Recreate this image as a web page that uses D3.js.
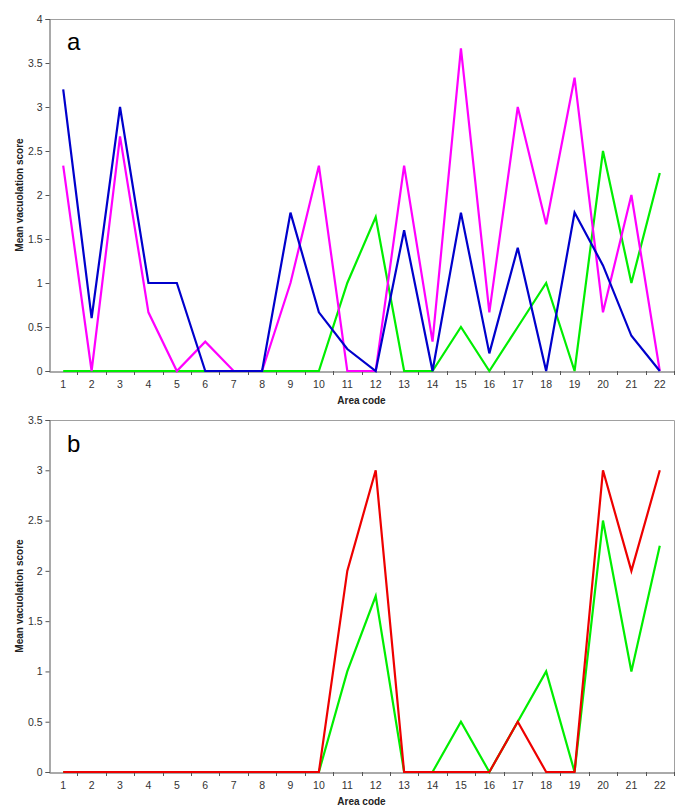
<!DOCTYPE html>
<html>
<head>
<meta charset="utf-8">
<script src="https://cdn.jsdelivr.net/npm/d3@7"></script>
<style>
  html, body { margin: 0; padding: 0; background: #fff; }
  svg { display: block; }
</style>
</head>
<body>
<svg id="chart" width="685" height="812"></svg>
<script>
// ---- data ----
const areaCodes = d3.range(1, 23).map(String);

// panel a
const seriesBlueA    = [3.2, 0.6, 3.0, 1.0, 1.0, 0, 0, 0, 1.8, 0.667, 0.25, 0, 1.6, 0, 1.8, 0.2, 1.4, 0, 1.8, 1.2, 0.4, 0];
const seriesMagentaA = [2.333, 0, 2.667, 0.667, 0, 0.333, 0, 0, 1.0, 2.333, 0, 0, 2.333, 0.333, 3.667, 0.667, 3.0, 1.667, 3.333, 0.667, 2.0, 0];
const seriesGreenA   = [0, 0, 0, 0, 0, 0, 0, 0, 0, 0, 1.0, 1.75, 0, 0, 0.5, 0, 0.5, 1.0, 0, 2.5, 1.0, 2.25];

// panel b
const seriesGreenB = [0, 0, 0, 0, 0, 0, 0, 0, 0, 0, 1.0, 1.75, 0, 0, 0.5, 0, 0.5, 1.0, 0, 2.5, 1.0, 2.25];
const seriesRedB   = [0, 0, 0, 0, 0, 0, 0, 0, 0, 0, 2.0, 3.0, 0, 0, 0, 0, 0.5, 0, 0, 3.0, 2.0, 3.0];

const yTicksA = [0, 0.5, 1, 1.5, 2, 2.5, 3, 3.5, 4];
const yTicksB = [0, 0.5, 1, 1.5, 2, 2.5, 3, 3.5];

const xTitle = "Area code";
const yTitle = "Mean vacuolation score";

// ---- drawing ----
const svg = d3.select("#chart");
const narrow = "'Liberation Sans Narrow', 'Arial Narrow', 'Liberation Sans', Arial, sans-serif";

function panel(opts) {
  const left = 49, right = 674;
  const top = opts.top, bottom = opts.top + 352;
  const x = d3.scaleBand().domain(areaCodes).range([left, right]).paddingInner(0).paddingOuter(0);
  const y = d3.scaleLinear().domain([0, opts.yMax]).range([bottom, top]);
  const g = svg.append("g");

  // plot frame (top and right, light gray)
  g.append("path")
    .attr("d", `M${left},${top + 0.5}H${right + 0.5}V${bottom}`)
    .attr("fill", "none").attr("stroke", "#a0a0a0").attr("stroke-width", 1);

  // y axis
  const ya = d3.axisLeft(y).tickValues(opts.yTicks).tickSize(4).tickPadding(3)
    .tickFormat(d => String(d));
  const yg = g.append("g").attr("transform", `translate(${left + 0.5},0)`).call(ya);
  yg.select(".domain").attr("stroke", "#555");
  yg.selectAll(".tick line").attr("stroke", "#555");
  yg.selectAll(".tick text").attr("font-family", narrow).attr("font-size", 10.5).attr("fill", "#333");

  // x axis: labels centered on bands, tick marks at band boundaries
  const xa = d3.axisBottom(x).tickSize(0).tickPadding(9);
  const xg = g.append("g").attr("transform", `translate(0,${bottom + 0.5})`).call(xa);
  xg.select(".domain").attr("stroke", "#555");
  xg.selectAll(".tick text").attr("font-family", narrow).attr("font-size", 10.5).attr("fill", "#333");
  g.append("g").selectAll("line").data(areaCodes).join("line")
    .attr("x1", d => Math.round(x(d) + x.bandwidth()) + 0.5)
    .attr("x2", d => Math.round(x(d) + x.bandwidth()) + 0.5)
    .attr("y1", bottom).attr("y2", bottom + 4)
    .attr("stroke", "#555");

  // axis titles
  g.append("text").attr("x", (left + right) / 2).attr("y", bottom + 33)
    .attr("text-anchor", "middle").attr("font-family", narrow).attr("font-weight", "bold")
    .attr("font-size", 10).attr("fill", "#222").text(xTitle);
  g.append("text").attr("transform", `translate(23,${(top + bottom) / 2}) rotate(-90)`)
    .attr("text-anchor", "middle").attr("font-family", narrow).attr("font-weight", "bold")
    .attr("font-size", 10).attr("fill", "#222").text(yTitle);

  // panel letter
  g.append("text").attr("x", 67).attr("y", top + opts.letterDy)
    .attr("font-family", "'Liberation Sans', Arial, sans-serif").attr("font-size", 24)
    .attr("fill", "#000").text(opts.letter);

  // lines
  const line = d3.line().x((d, i) => x(areaCodes[i]) + x.bandwidth() / 2).y(d => y(d));
  opts.series.forEach(s => {
    g.append("path").datum(s.values)
      .attr("d", line).attr("fill", "none")
      .attr("stroke", s.color).attr("stroke-width", 2.2)
      .attr("stroke-linejoin", "miter").attr("stroke-linecap", "butt");
  });
}

panel({
  top: 19, yMax: 4, yTicks: yTicksA, letter: "a", letterDy: 31,
  series: [
    { values: seriesGreenA, color: "#00ee00" },
    { values: seriesMagentaA, color: "#ff00ff" },
    { values: seriesBlueA, color: "#0000cc" }
  ]
});

panel({
  top: 420, yMax: 3.5, yTicks: yTicksB, letter: "b", letterDy: 32,
  series: [
    { values: seriesGreenB, color: "#00ee00" },
    { values: seriesRedB, color: "#ee0000" }
  ]
});
</script>
</body>
</html>
